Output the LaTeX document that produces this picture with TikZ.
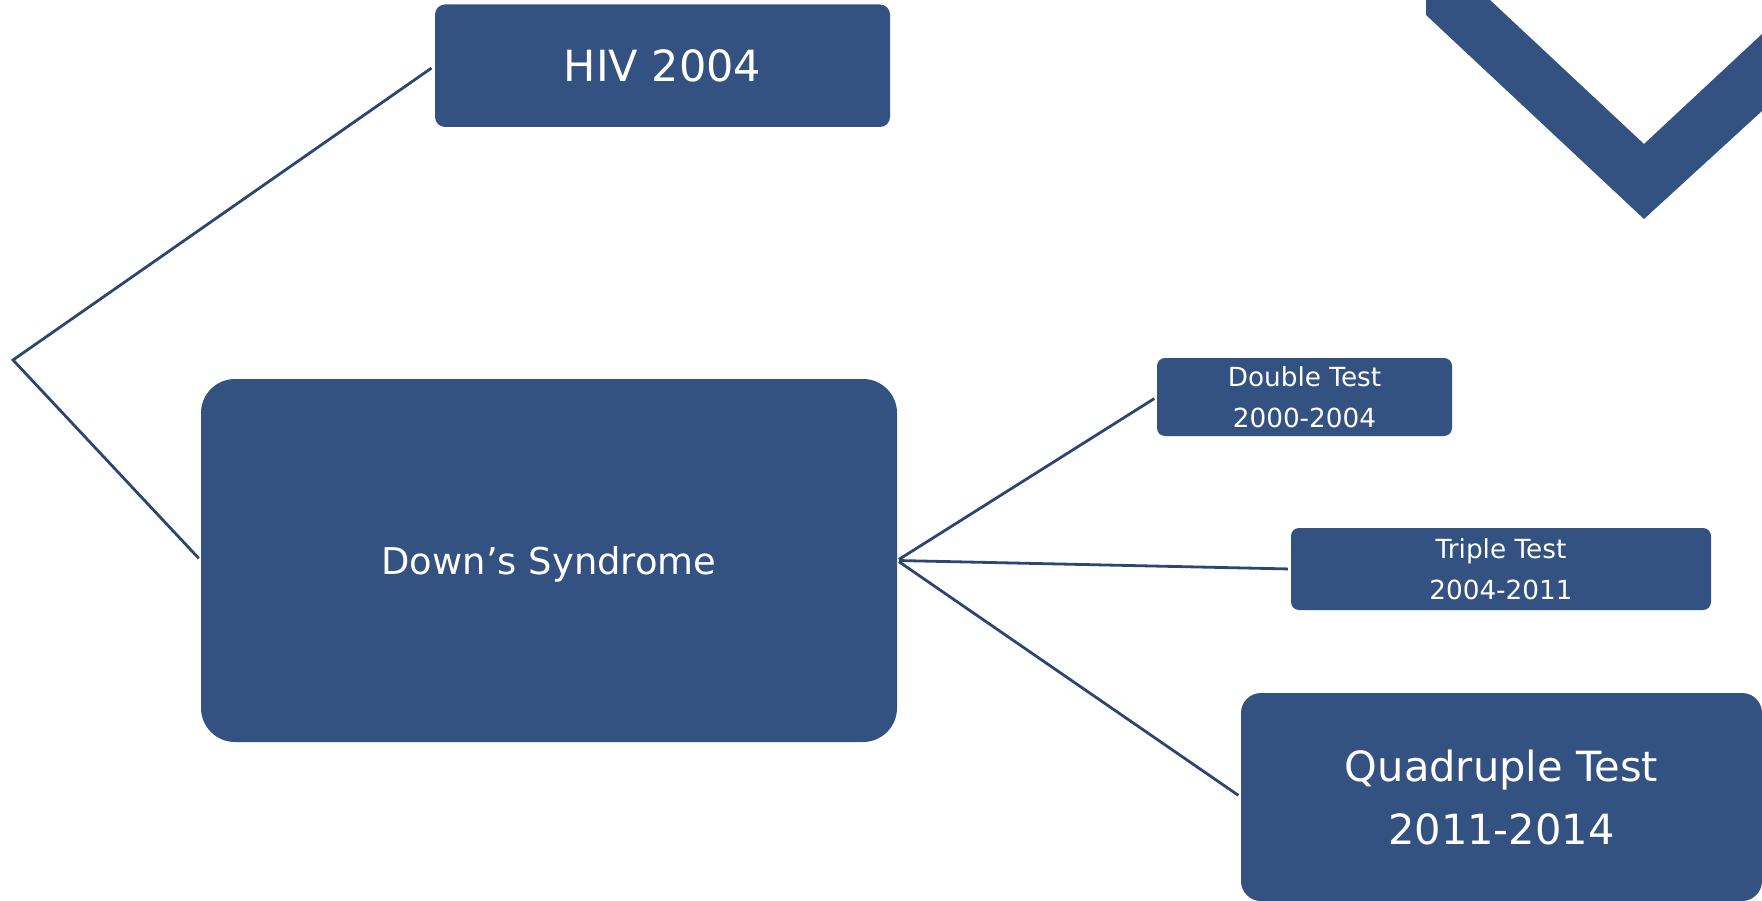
\documentclass[tikz,border=0pt]{standalone}
\usepackage{fontspec}
\setmainfont{DejaVu Sans}
\definecolor{boxblue}{HTML}{335181}
\definecolor{lineblue}{HTML}{2C4672}
\tikzset{
  boxnode/.style={fill=boxblue, draw=none, text=white, align=center, inner sep=0pt, text depth=0pt},
  conn/.style={draw=lineblue, line width=2.8pt, line join=miter}
}
\begin{document}
\begin{tikzpicture}[x=1pt,y=-1pt]
\useasboundingbox (0,0) rectangle (1762,901);
\clip (0,0) rectangle (1762,901);

% chevron
\fill[boxblue] (1426,0) -- (1490,0) -- (1644,144) -- (1762,34) -- (1762,111) -- (1644,219) -- (1426,15) -- cycle;

% boxes
\node[boxnode, rounded corners=10pt, minimum width=455pt, minimum height=122.5pt,
      font=\fontsize{43}{52}\selectfont] (hiv) at (662.5,65.75) {HIV 2004};
\node[boxnode, rounded corners=34pt, minimum width=696pt, minimum height=363pt,
      font=\fontsize{36.9}{44}\selectfont] (down) at (549,560.5) {Down’s Syndrome};
\node[boxnode, rounded corners=8pt, minimum width=295pt, minimum height=78pt,
      font=\fontsize{26.3}{41}\selectfont] (dbl) at (1304.5,397) {Double Test\\2000-2004};
\node[boxnode, rounded corners=8pt, minimum width=420pt, minimum height=82pt,
      font=\fontsize{26.3}{41}\selectfont] (tri) at (1501,569) {Triple Test\\2004-2011};
\node[boxnode, rounded corners=20pt, minimum width=521pt, minimum height=208pt,
      font=\fontsize{41.6}{63}\selectfont] (quad) at (1501.5,797) {Quadruple Test\\2011-2014};

% connectors
\coordinate (v) at (13,360);
\draw[conn, shorten <=4pt, shorten >=3pt] (hiv.west) -- (v) -- (down.west);
\draw[conn, shorten <=2pt, shorten >=3pt] (down.east) -- (dbl.west);
\draw[conn, shorten <=2pt, shorten >=3pt] (down.east) -- (tri.west);
\draw[conn, shorten <=2pt, shorten >=3pt] (down.east) -- (quad.west);
\end{tikzpicture}
\end{document}
